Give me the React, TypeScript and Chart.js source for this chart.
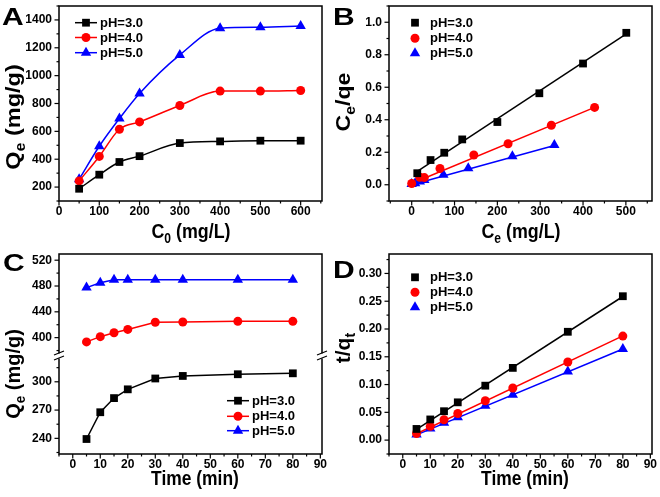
import { useEffect, useRef } from 'react';
import { Chart, registerables } from 'chart.js';

Chart.register(...registerables);

// ---------- Panel A: Qe vs C0 ----------
const aC0 = [50, 100, 150, 200, 300, 400, 500, 600];
const aPh3 = [188, 289, 380, 422, 516, 528, 533, 533];
const aPh4 = [244, 420, 615, 668, 786, 889, 889, 893];
const aPh5 = [256, 493, 692, 872, 1149, 1341, 1348, 1357];

// ---------- Panel B: Ce/qe vs Ce ----------
const bCe3 = [13, 44, 76, 118, 200, 298, 400, 501];
const bRatio3 = [0.071, 0.152, 0.197, 0.279, 0.386, 0.563, 0.746, 0.935];
const bCe4 = [0, 19, 29.5, 66, 145, 225, 326, 427];
const bRatio4 = [0.008, 0.046, 0.044, 0.1, 0.183, 0.252, 0.366, 0.476];
const bCe5 = [0, 8, 19, 29.5, 74, 132, 235, 333];
const bRatio5 = [0.004, 0.01, 0.02, 0.029, 0.061, 0.102, 0.175, 0.244];
const bFitX3 = [13, 501];
const bFitY3 = [0.083, 0.928];
const bFitX4 = [0, 427];
const bFitY4 = [0.008, 0.476];
const bFitX5 = [0, 333];
const bFitY5 = [0.0, 0.242];

// ---------- Panel C: Qe vs time (broken axis) ----------
const cTime = [5, 10, 15, 20, 30, 40, 60, 80];
const cPh3 = [239.3, 267.7, 282.7, 292, 303.5, 306.2, 308, 309];
const cPh4 = [393.4, 401.5, 407.6, 412.7, 423.8, 424.3, 425.3, 425.3];
const cPh5 = [477.5, 485, 489.6, 489.6, 489.6, 489.6, 489.6, 489.6];

// ---------- Panel D: t/qt vs time ----------
const dTime = [5, 10, 15, 20, 30, 40, 60, 80];
const dPh3 = [0.0201, 0.0372, 0.052, 0.068, 0.098, 0.13, 0.195, 0.259];
const dPh4 = [0.0118, 0.0248, 0.0366, 0.0478, 0.0709, 0.0939, 0.1406, 0.1872];
const dPh5 = [0.01, 0.0207, 0.0313, 0.0413, 0.062, 0.0815, 0.1234, 0.1642];
const dFitX = [5, 80];
const dFit3 = [0.0195, 0.2585];
const dFit4 = [0.0115, 0.1875];
const dFit5 = [0.0095, 0.164];

const seriesLabels = ['pH=3.0', 'pH=4.0', 'pH=5.0'];

const FAMILY = '"Liberation Sans", Arial, Helvetica, sans-serif';
const BLACK = '#000000';
const RED = '#ff0000';
const BLUE = '#0000ff';

type Part = { t: string; sub?: boolean };
type TickSpec = { id: string; minor: number; major: number };
type LegendSpec = {
  ds: number[];
  markerX: number;
  textX: number;
  ys: number[];
  line?: [number, number];
};
type Decor = {
  letter: { t: string; x: number; y: number; size: number; stretch: number };
  xTitle: { parts: Part[]; x: number; y: number; size: number; stretch: number };
  yTitle: { parts: Part[]; x: number; y: number; size: number; stretch: number };
  ticks: TickSpec[];
  legend: LegendSpec;
  breakScale?: string;
};

const font = (size: number) => `bold ${size}px ${FAMILY}`;

function drawRich(
  ctx: CanvasRenderingContext2D,
  parts: Part[],
  x: number,
  y: number,
  size: number,
  rotate: boolean,
  stretch: number
) {
  ctx.save();
  ctx.translate(x, y);
  if (rotate) ctx.rotate(-Math.PI / 2);
  ctx.scale(stretch, 1);
  ctx.fillStyle = BLACK;
  ctx.textBaseline = 'alphabetic';
  ctx.textAlign = 'left';
  const subSize = size * 0.68;
  let total = 0;
  const widths = parts.map((p) => {
    ctx.font = font(p.sub ? subSize : size);
    const w = ctx.measureText(p.t).width;
    total += w;
    return w;
  });
  let cx = -total / 2;
  parts.forEach((p, i) => {
    ctx.font = font(p.sub ? subSize : size);
    ctx.fillText(p.t, cx, p.sub ? size * 0.22 : 0);
    cx += widths[i];
  });
  ctx.restore();
}

function drawMarker(
  ctx: CanvasRenderingContext2D,
  style: string,
  x: number,
  y: number,
  r: number,
  color: string
) {
  ctx.save();
  ctx.fillStyle = color;
  ctx.beginPath();
  if (style === 'rect') {
    const s = r * Math.SQRT1_2;
    ctx.rect(x - s, y - s, 2 * s, 2 * s);
  } else if (style === 'circle') {
    ctx.arc(x, y, r, 0, Math.PI * 2);
  } else {
    ctx.moveTo(x, y - r);
    ctx.lineTo(x + r * 0.866, y + r * 0.5);
    ctx.lineTo(x - r * 0.866, y + r * 0.5);
    ctx.closePath();
  }
  ctx.fill();
  ctx.restore();
}

function makeDecor(d: Decor) {
  return {
    id: 'decor',
    afterDraw(chart: any) {
      const ctx: CanvasRenderingContext2D = chart.ctx;
      const a = chart.chartArea;
      ctx.save();
      ctx.strokeStyle = BLACK;
      ctx.lineWidth = 1.5;
      ctx.strokeRect(a.left, a.top, a.right - a.left, a.bottom - a.top);
      // tick marks
      ctx.lineWidth = 1.2;
      d.ticks.forEach((t) => {
        const s = chart.scales[t.id];
        const horiz = s.isHorizontal();
        const k0 = Math.ceil(s.min / t.minor - 1e-6);
        for (let k = k0; k * t.minor <= s.max + 1e-9; k++) {
          const v = k * t.minor;
          const q = v / t.major;
          const major = Math.abs(q - Math.round(q)) < 1e-6;
          const len = major ? 4.5 : 2.5;
          const p = s.getPixelForValue(v);
          ctx.beginPath();
          if (horiz) {
            ctx.moveTo(p, a.bottom);
            ctx.lineTo(p, a.bottom + len);
          } else {
            ctx.moveTo(a.left - len, p);
            ctx.lineTo(a.left, p);
          }
          ctx.stroke();
        }
      });
      // axis break
      if (d.breakScale) {
        const yb = chart.scales[d.breakScale].bottom;
        [a.left, a.right].forEach((xb: number) => {
          ctx.fillStyle = '#ffffff';
          ctx.fillRect(xb - 2, yb - 2.5, 4, 5);
          ctx.strokeStyle = BLACK;
          ctx.lineWidth = 1.2;
          ctx.beginPath();
          ctx.moveTo(xb - 5, yb - 1);
          ctx.lineTo(xb + 5, yb - 5);
          ctx.moveTo(xb - 5, yb + 4);
          ctx.lineTo(xb + 5, yb);
          ctx.stroke();
        });
      }
      // legend
      const L = d.legend;
      L.ds.forEach((di, i) => {
        const ds = chart.data.datasets[di];
        const y = L.ys[i];
        if (L.line) {
          ctx.strokeStyle = ds.borderColor;
          ctx.lineWidth = 1.5;
          ctx.beginPath();
          ctx.moveTo(L.line[0], y);
          ctx.lineTo(L.line[1], y);
          ctx.stroke();
        }
        drawMarker(ctx, ds.pointStyle, L.markerX, y, ds.pointRadius, ds.pointBackgroundColor);
        ctx.fillStyle = BLACK;
        ctx.font = font(13);
        ctx.textAlign = 'left';
        ctx.textBaseline = 'middle';
        ctx.fillText(ds.label, L.textX, y + 0.5);
      });
      // titles
      drawRich(ctx, d.xTitle.parts, d.xTitle.x, d.xTitle.y, d.xTitle.size, false, d.xTitle.stretch);
      drawRich(ctx, d.yTitle.parts, d.yTitle.x, d.yTitle.y, d.yTitle.size, true, d.yTitle.stretch);
      // panel letter
      ctx.save();
      ctx.translate(d.letter.x, d.letter.y);
      ctx.scale(d.letter.stretch, 1);
      ctx.fillStyle = BLACK;
      ctx.font = font(d.letter.size);
      ctx.textAlign = 'left';
      ctx.textBaseline = 'alphabetic';
      ctx.fillText(d.letter.t, 0, 0);
      ctx.restore();
      ctx.restore();
    },
  };
}

const pts = (xs: number[], ys: number[]) => xs.map((x, i) => ({ x, y: ys[i] }));

function series(
  label: string,
  xs: number[],
  ys: number[],
  color: string,
  style: string,
  r: number,
  showLine: boolean,
  extra: any = {}
) {
  return {
    label,
    data: pts(xs, ys),
    showLine,
    borderColor: color,
    backgroundColor: color,
    borderWidth: 1.5,
    pointStyle: style,
    pointRadius: r,
    pointBackgroundColor: color,
    pointBorderColor: color,
    pointBorderWidth: 0,
    tension: 0,
    ...extra,
  };
}

function fit(xs: number[], ys: number[], color: string, extra: any = {}) {
  return {
    label: '',
    data: pts(xs, ys),
    showLine: true,
    borderColor: color,
    borderWidth: 1.5,
    pointRadius: 0,
    tension: 0,
    ...extra,
  };
}

function labeler(major: number, decimals: number, lo: number, hi: number) {
  return (v: any) => {
    const n = Number(v);
    const q = n / major;
    if (Math.abs(q - Math.round(q)) > 1e-6) return '';
    if (n < lo - 1e-9 || n > hi + 1e-9) return '';
    return (Math.round(q) * major).toFixed(decimals);
  };
}

function linAxis(min: number, max: number, step: number, cb: any, horiz: boolean, size: number, extra: any = {}) {
  return {
    type: 'linear',
    min,
    max,
    grid: { display: false, drawTicks: false },
    border: { display: false },
    ticks: {
      stepSize: step,
      autoSkip: false,
      includeBounds: false,
      maxRotation: 0,
      minRotation: 0,
      padding: horiz ? 3 : 7,
      color: BLACK,
      font: { family: FAMILY, size: 12, weight: 'bold' },
      callback: cb,
    },
    afterFit: (s: any) => {
      if (horiz) s.height = size;
      else s.width = size;
      s.paddingTop = 0;
      s.paddingBottom = 0;
      s.paddingLeft = 0;
      s.paddingRight = 0;
    },
    ...extra,
  };
}

const baseOptions = (scales: any) => ({
  animation: false,
  responsive: false,
  maintainAspectRatio: false,
  devicePixelRatio: 1,
  layout: { padding: { top: 3, right: 8, left: 0, bottom: 0 } },
  plugins: { legend: { display: false }, tooltip: { enabled: false } },
  scales,
});

function configA() {
  return {
    type: 'scatter',
    data: {
      datasets: [
        series(seriesLabels[0], aC0, aPh3, BLACK, 'rect', 5.5, true, { cubicInterpolationMode: 'monotone' }),
        series(seriesLabels[1], aC0, aPh4, RED, 'circle', 4.5, true, { cubicInterpolationMode: 'monotone' }),
        series(seriesLabels[2], aC0, aPh5, BLUE, 'triangle', 6, true, { cubicInterpolationMode: 'monotone' }),
      ],
    },
    options: baseOptions({
      x: linAxis(0, 653, 50, labeler(100, 0, 0, 600), true, 47),
      y: linAxis(100, 1500, 100, labeler(200, 0, 200, 1400), false, 59),
    }),
    plugins: [
      makeDecor({
        letter: { t: 'A', x: 2, y: 25, size: 24, stretch: 1.25 },
        xTitle: { parts: [{ t: 'C' }, { t: '0', sub: true }, { t: ' (mg/L)' }], x: 191, y: 238, size: 21, stretch: 0.85 },
        yTitle: { parts: [{ t: 'Q' }, { t: 'e', sub: true }, { t: ' (mg/g)' }], x: 20, y: 117, size: 21, stretch: 1.12 },
        ticks: [
          { id: 'x', minor: 50, major: 100 },
          { id: 'y', minor: 100, major: 200 },
        ],
        legend: { ds: [0, 1, 2], markerX: 86, textX: 100, ys: [22.7, 37.5, 52.7], line: [75, 97] },
      }),
    ],
  };
}

function configB() {
  return {
    type: 'scatter',
    data: {
      datasets: [
        series(seriesLabels[0], bCe3, bRatio3, BLACK, 'rect', 5.5, false),
        series(seriesLabels[1], bCe4, bRatio4, RED, 'circle', 4.5, false),
        series(seriesLabels[2], bCe5, bRatio5, BLUE, 'triangle', 6, false),
        fit(bFitX3, bFitY3, BLACK),
        fit(bFitX4, bFitY4, RED),
        fit(bFitX5, bFitY5, BLUE),
      ],
    },
    options: baseOptions({
      x: linAxis(-53, 561, 50, labeler(100, 0, 0, 500), true, 47),
      y: linAxis(-0.1, 1.1, 0.1, labeler(0.2, 1, 0, 1.0), false, 59),
    }),
    plugins: [
      makeDecor({
        letter: { t: 'B', x: 3, y: 25, size: 24, stretch: 1.25 },
        xTitle: { parts: [{ t: 'C' }, { t: 'e', sub: true }, { t: ' (mg/L)' }], x: 191, y: 238, size: 21, stretch: 0.85 },
        yTitle: { parts: [{ t: 'C' }, { t: 'e', sub: true }, { t: '/qe' }], x: 20, y: 102, size: 21, stretch: 1.1 },
        ticks: [
          { id: 'x', minor: 50, major: 100 },
          { id: 'y', minor: 0.1, major: 0.2 },
        ],
        legend: { ds: [0, 1, 2], markerX: 85, textX: 100, ys: [22.7, 38.3, 53.3] },
      }),
    ],
  };
}

function configC() {
  return {
    type: 'scatter',
    data: {
      datasets: [
        series(seriesLabels[0], cTime, cPh3, BLACK, 'rect', 5.5, true, { yAxisID: 'yLow' }),
        series(seriesLabels[1], cTime, cPh4, RED, 'circle', 4.5, true, { yAxisID: 'yHigh' }),
        series(seriesLabels[2], cTime, cPh5, BLUE, 'triangle', 6, true, { yAxisID: 'yHigh' }),
      ],
    },
    options: baseOptions({
      x: linAxis(-5, 90.6, 5, labeler(10, 0, 0, 90), true, 43),
      yLow: linAxis(223.4, 327.4, 15, labeler(30, 0, 240, 300), false, 59, {
        position: 'left',
        stack: 'qe',
        stackWeight: 100,
        weight: 0,
      }),
      yHigh: linAxis(371.6, 529.6, 20, labeler(40, 0, 400, 520), false, 59, {
        position: 'left',
        stack: 'qe',
        stackWeight: 104,
        weight: 1,
      }),
    }),
    plugins: [
      makeDecor({
        letter: { t: 'C', x: 3, y: 23, size: 24, stretch: 1.25 },
        xTitle: { parts: [{ t: 'Time (min)' }], x: 195, y: 237, size: 21, stretch: 0.83 },
        yTitle: { parts: [{ t: 'Q' }, { t: 'e', sub: true }, { t: ' (mg/g)' }], x: 20, y: 126, size: 21, stretch: 0.95 },
        ticks: [
          { id: 'x', minor: 5, major: 10 },
          { id: 'yLow', minor: 15, major: 30 },
          { id: 'yHigh', minor: 20, major: 40 },
        ],
        legend: { ds: [0, 1, 2], markerX: 238, textX: 252, ys: [152.7, 168.3, 182.7], line: [227, 249] },
        breakScale: 'yHigh',
      }),
    ],
  };
}

function configD() {
  return {
    type: 'scatter',
    data: {
      datasets: [
        series(seriesLabels[0], dTime, dPh3, BLACK, 'rect', 5.5, false),
        series(seriesLabels[1], dTime, dPh4, RED, 'circle', 4.5, false),
        series(seriesLabels[2], dTime, dPh5, BLUE, 'triangle', 6, false),
        fit(dFitX, dFit3, BLACK),
        fit(dFitX, dFit4, RED),
        fit(dFitX, dFit5, BLUE),
      ],
    },
    options: baseOptions({
      x: linAxis(-5, 90.6, 5, labeler(10, 0, 0, 90), true, 43),
      y: linAxis(-0.025, 0.335, 0.025, labeler(0.05, 2, 0, 0.3), false, 59),
    }),
    plugins: [
      makeDecor({
        letter: { t: 'D', x: 3, y: 30, size: 24, stretch: 1.25 },
        xTitle: { parts: [{ t: 'Time (min)' }], x: 195, y: 237, size: 21, stretch: 0.83 },
        yTitle: { parts: [{ t: 't/q' }, { t: 't', sub: true }], x: 20, y: 100, size: 21, stretch: 1.0 },
        ticks: [
          { id: 'x', minor: 5, major: 10 },
          { id: 'y', minor: 0.025, major: 0.05 },
        ],
        legend: { ds: [0, 1, 2], markerX: 85, textX: 100, ys: [29.3, 44.3, 59.3] },
      }),
    ],
  };
}

function Panel(props: { make: () => any; left: number; top: number; width: number; height: number }) {
  const ref = useRef<HTMLCanvasElement | null>(null);
  useEffect(() => {
    if (!ref.current) return;
    const chart = new Chart(ref.current, props.make() as any);
    return () => chart.destroy();
  }, []);
  return (
    <canvas
      ref={ref}
      width={props.width}
      height={props.height}
      style={{ position: 'absolute', left: props.left, top: props.top, width: props.width, height: props.height }}
    />
  );
}

export default function App() {
  return (
    <div style={{ position: 'fixed', left: 0, top: 0, width: 660, height: 497, background: '#ffffff', overflow: 'hidden' }}>
      <Panel make={configA} left={0} top={0} width={330} height={248} />
      <Panel make={configB} left={330} top={0} width={330} height={248} />
      <Panel make={configC} left={0} top={248} width={330} height={249} />
      <Panel make={configD} left={330} top={248} width={330} height={249} />
    </div>
  );
}
